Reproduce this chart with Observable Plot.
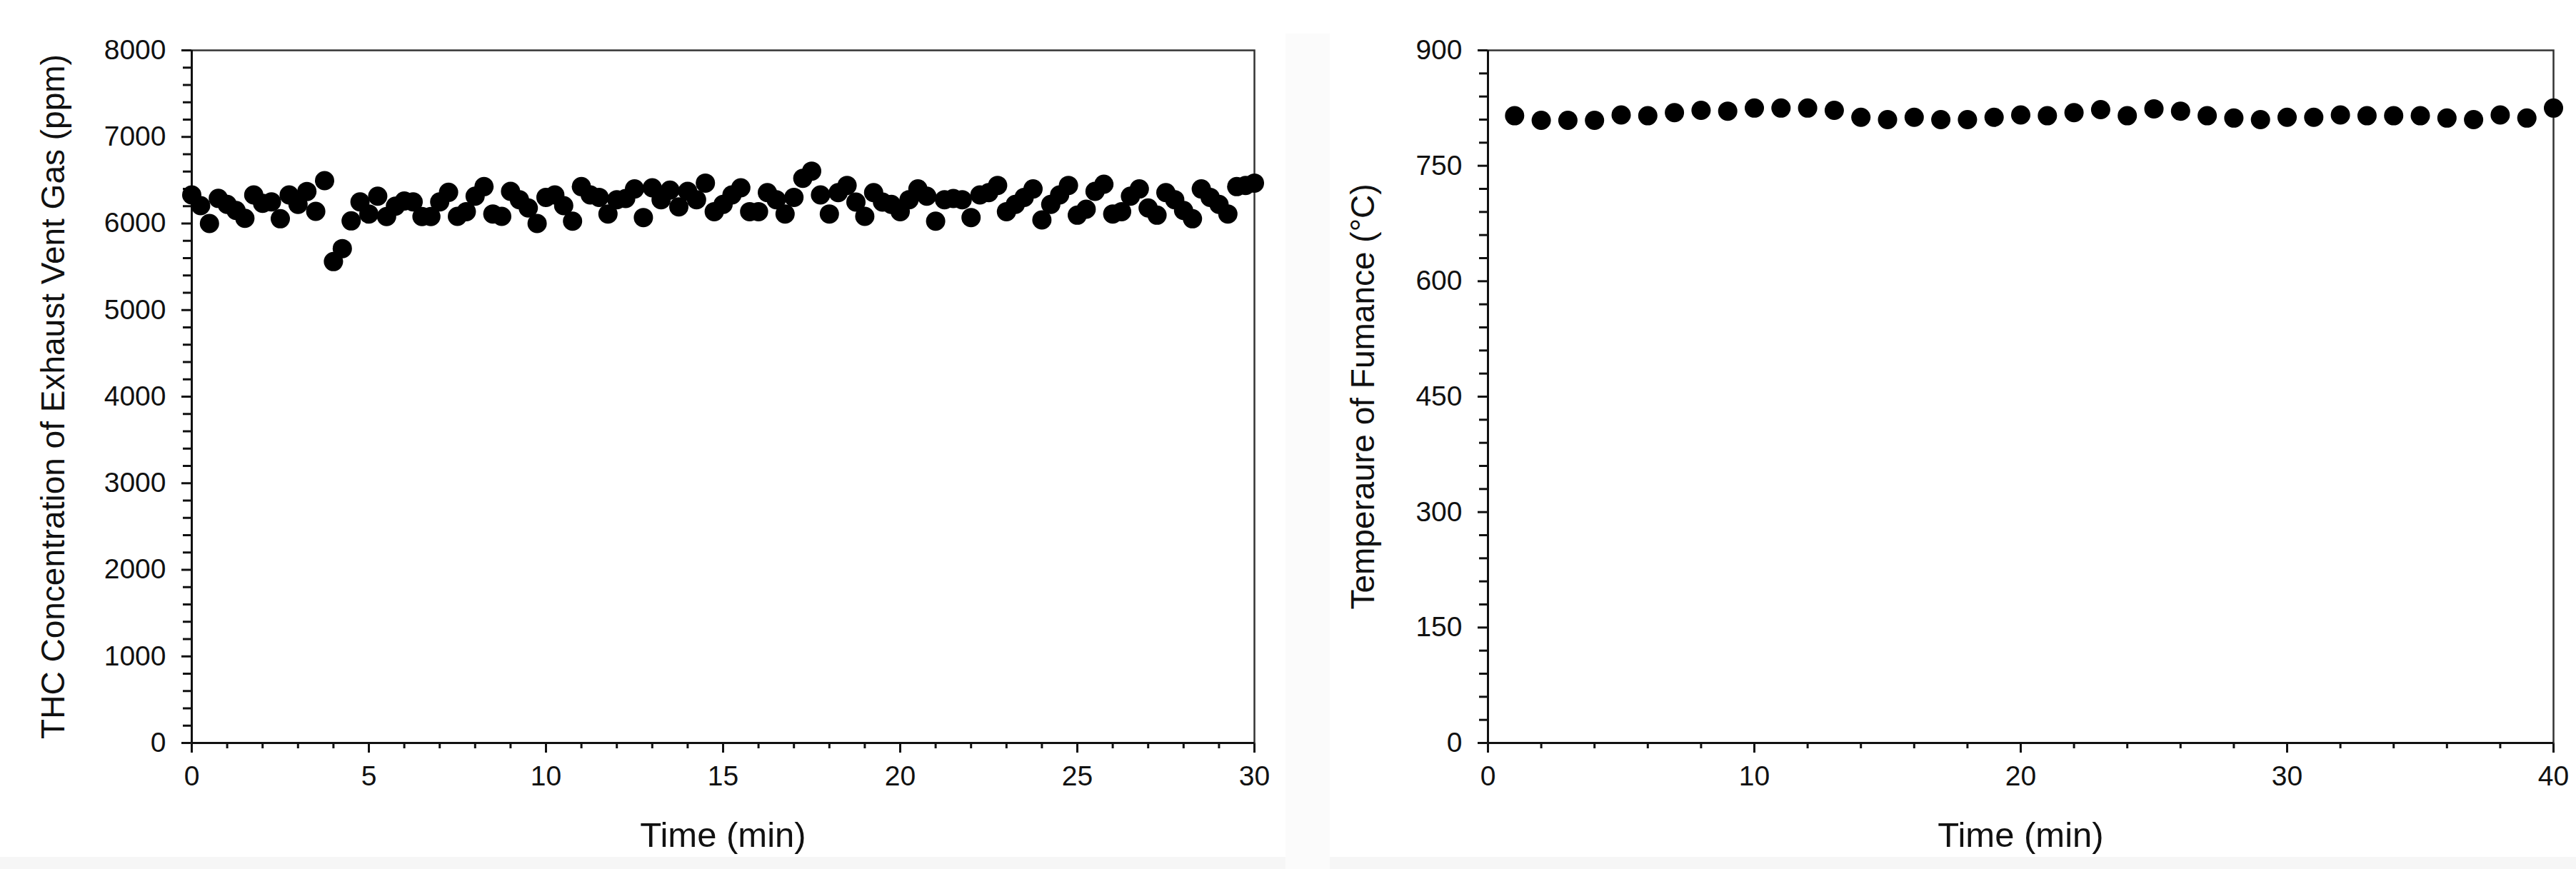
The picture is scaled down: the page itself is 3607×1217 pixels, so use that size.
<!DOCTYPE html>
<html><head><meta charset="utf-8">
<script src="https://cdn.jsdelivr.net/npm/d3@7"></script>
<script src="https://cdn.jsdelivr.net/npm/@observablehq/plot@0.6"></script>
<style>
html,body{margin:0;padding:0;background:#fff;}
#wrap{position:relative;width:3607px;height:1217px;overflow:hidden;background:#fff;}
#left{position:absolute;left:0;top:0;}
#right{position:absolute;left:1800px;top:0;}
.band{position:absolute;}
</style></head><body><div id="wrap">
<div class="band" style="left:0;top:1200px;width:3607px;height:17px;background:#f6f6f6;"></div>
<div class="band" style="left:1800px;top:47px;width:62px;height:1170px;background:#fbfbfb;"></div>
<div id="left"></div><div id="right"></div></div>
<script>
// ---- Left panel: THC concentration vs time ----
const thcTime = [0,0.25,0.5,0.75,1,1.25,1.5,1.75,2,2.25,2.5,2.75,3,3.25,3.5,3.75,4,4.25,4.5,4.75,
  5,5.25,5.5,5.75,6,6.25,6.5,6.75,7,7.25,7.5,7.75,8,8.25,8.5,8.75,9,9.25,9.5,9.75,
  10,10.25,10.5,10.75,11,11.25,11.5,11.75,12,12.25,12.5,12.75,13,13.25,13.5,13.75,14,14.25,14.5,14.75,
  15,15.25,15.5,15.75,16,16.25,16.5,16.75,17,17.25,17.5,17.75,18,18.25,18.5,18.75,19,19.25,19.5,19.75,
  20,20.25,20.5,20.75,21,21.25,21.5,21.75,22,22.25,22.5,22.75,23,23.25,23.5,23.75,24,24.25,24.5,24.75,
  25,25.25,25.5,25.75,26,26.25,26.5,26.75,27,27.25,27.5,27.75,28,28.25,28.5,28.75,29,29.25,29.5,29.75,30];
const thcValues = [6330,6206,6000,6290,6220,6150,6060,6330,6234,6250,6055,6330,6220,6370,6140,6495,5560,5710,6030,6250,
  6110,6315,6080,6200,6260,6250,6080,6080,6250,6360,6083,6137,6316,6426,6110,6083,6371,6275,6179,6000,
  6302,6330,6206,6027,6426,6330,6302,6110,6275,6289,6399,6069,6412,6275,6385,6192,6371,6275,6467,6137,
  6220,6330,6412,6137,6137,6357,6275,6110,6302,6522,6605,6330,6110,6357,6440,6247,6082,6357,6247,6220,
  6137,6275,6399,6316,6027,6275,6289,6275,6069,6330,6357,6440,6137,6220,6302,6399,6041,6220,6330,6440,
  6096,6165,6371,6454,6110,6137,6316,6399,6179,6096,6357,6275,6151,6055,6399,6302,6220,6110,6426,6440,6467];

// ---- Right panel: furnace temperature vs time ----
const furnTime = [1,2,3,4,5,6,7,8,9,10,11,12,13,14,15,16,17,18,19,20,
  21,22,23,24,25,26,27,28,29,30,31,32,33,34,35,36,37,38,39,40];
const furnTemp = [815,809,809,809,816,815,819,822,821,825,825,825,822,813,810,813,810,810,813,816,
  815,819,823,815,824,821,815,812,810,813,813,816,815,815,815,812,810,816,812,825];

// ---- Tick labels / axis texts ----
const thcTicks = [0,1000,2000,3000,4000,5000,6000,7000,8000];
const thcTimeTicks = [0,5,10,15,20,25,30];
const tempTicks = [0,150,300,450,600,750,900];
const tempTimeTicks = [0,10,20,30,40];
const xTitle = "Time (min)";
const thcTitle = "THC Concentration of Exhaust Vent Gas (ppm)";
const tempTitle = "Temperaure of Fumance (\u00B0C)";

const thcMinor = d3.range(0, 8001, 200).filter(v => v % 1000 !== 0);
const thcTimeMinor = d3.range(0, 31, 1).filter(v => v % 5 !== 0);
const tempMinor = d3.range(0, 901, 30).filter(v => v % 150 !== 0);
const tempTimeMinor = d3.range(0, 41, 2).filter(v => v % 10 !== 0);

const FONT = "'Liberation Sans', Arial, Helvetica, sans-serif";
const INK = "#111";
const fmt = d => String(d);

function panel({width, marginLeft, marginRight, xDomain, yDomain, xTicks, xMinor, yTicks, yMinor, xs, ys, yTitle, yTitleDx}) {
  return Plot.plot({
    width, height: 1217,
    marginLeft, marginRight, marginTop: 70, marginBottom: 177,
    style: {fontFamily: FONT, fontSize: "39px", color: INK, background: "transparent", overflow: "visible"},
    x: {domain: xDomain},
    y: {domain: yDomain},
    marks: [
      Plot.axisY(yTicks, {tickSize: 14, tickPadding: 22, strokeWidth: 3, label: null, fontSize: 39, tickFormat: fmt}),
      Plot.axisY(yMinor, {tickSize: 12, strokeWidth: 3, fill: "none", label: null}),
      Plot.axisX(xTicks, {tickSize: 14, tickPadding: 18, strokeWidth: 3, label: null, fontSize: 39, tickFormat: fmt}),
      Plot.axisX(xMinor, {tickSize: 8, strokeWidth: 3, fill: "none", label: null}),
      Plot.frame({stroke: "#333", strokeWidth: 2.5}),
      Plot.ruleX([xDomain[0]], {stroke: INK, strokeWidth: 3}),
      Plot.ruleY([yDomain[0]], {stroke: INK, strokeWidth: 3}),
      Plot.dot(ys, {x: xs, y: ys, r: 13.5, fill: "#000", stroke: "none"}),
      Plot.text([yTitle], {frameAnchor: "left", dx: yTitleDx, rotate: -90, fontSize: 46, fill: INK, lineAnchor: "middle", textAnchor: "middle"}),
      Plot.text([xTitle], {frameAnchor: "bottom", dy: 130, fontSize: 49, fill: INK, lineAnchor: "middle", textAnchor: "middle"})
    ]
  });
}

document.getElementById("left").append(panel({
  width: 1800, marginLeft: 268, marginRight: 44,
  xDomain: [0, 30], yDomain: [0, 8000],
  xTicks: thcTimeTicks, xMinor: thcTimeMinor, yTicks: thcTicks, yMinor: thcMinor,
  xs: thcTime, ys: thcValues, yTitle: thcTitle, yTitleDx: -193
}));
document.getElementById("right").append(panel({
  width: 1807, marginLeft: 283, marginRight: 32,
  xDomain: [0, 40], yDomain: [0, 900],
  xTicks: tempTimeTicks, xMinor: tempTimeMinor, yTicks: tempTicks, yMinor: tempMinor,
  xs: furnTime, ys: furnTemp, yTitle: tempTitle, yTitleDx: -174
}));
</script>
</body></html>
